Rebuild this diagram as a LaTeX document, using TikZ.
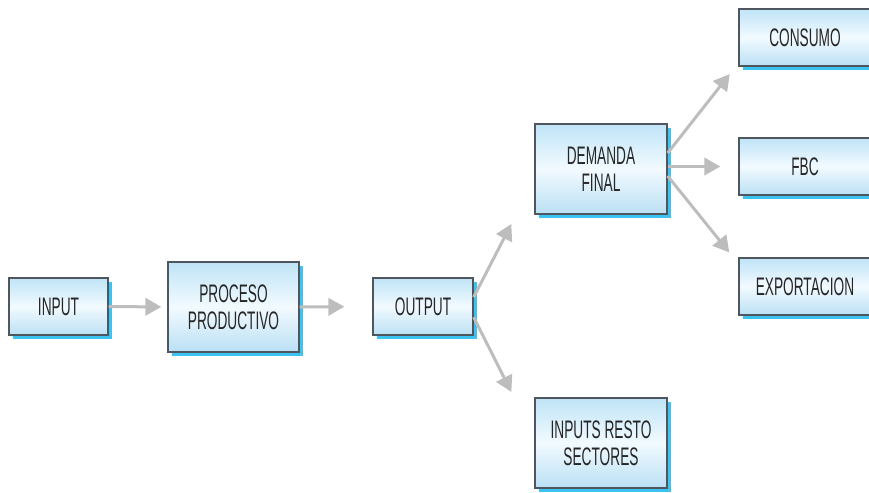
\documentclass[tikz,border=0pt]{standalone}
\usepackage{fontspec}
\usepackage{tikz}
\usetikzlibrary{arrows.meta,shadows}
\newfontfamily\cajafont{Liberation Sans}[FakeStretch=0.54]
\definecolor{cajaborde}{HTML}{50565D}
\definecolor{cajaarriba}{HTML}{BFE4F7}
\definecolor{cajamedio}{HTML}{F2FAFF}
\definecolor{cajaabajo}{HTML}{BAE0F4}
\definecolor{sombra}{HTML}{3CC3F2}
\definecolor{flechagris}{HTML}{BDBDBD}
\definecolor{texto}{HTML}{262626}
\tikzstyle{caja} = [draw=cajaborde, line width=1pt, rectangle, top color=cajaarriba, bottom color=cajaabajo, middle color=cajamedio, text=texto, align=center, font=\cajafont\fontsize{19}{20.5}\selectfont, inner sep=0pt, drop shadow={shadow xshift=3pt, shadow yshift=-3pt, fill=sombra, opacity=1}]
\tikzstyle{chica} = [caja, minimum height=42.75pt]
\tikzstyle{grande} = [caja, minimum width=99pt, minimum height=67.5pt]
\tikzstyle{flecha} = [draw=flechagris, line width=2.25pt, -{Triangle[length=12pt,width=13pt]}]

\begin{document}
\begin{tikzpicture}[x=0.75pt, y=-0.75pt]
		\useasboundingbox (0,0) rectangle (869,493);
		\node[chica, minimum width=74.25pt](input) at (58.5,306.5) {INPUT};
		\node[grande, minimum width=98.25pt](proceso) at (233.5,307) {PROCESO\\PRODUCTIVO};
		\node[chica, minimum width=75pt](output) at (423,306.5) {OUTPUT};
		\node[grande](demanda) at (601,169) {DEMANDA\\FINAL};
		\node[grande](resto) at (601,443) {INPUTS RESTO\\SECTORES};
		\node[chica, minimum width=99pt](consumo) at (805,37.5) {CONSUMO};
		\node[chica, minimum width=99pt](fbc) at (805,166.5) {FBC};
		\node[chica, minimum width=99pt](exportacion) at (805,286.5) {EXPORTACION};

		\draw[flecha, shorten >=4.5pt] (input.east) -- (proceso.west);
		\draw[flecha, shorten >=21pt] (proceso.east) -- (output.west);
		\draw[flecha] ([yshift=7pt]output.east) -- ([xshift=-17.25pt, yshift=-41.25pt]demanda.west);
		\draw[flecha] ([yshift=-8pt]output.east) -- ([xshift=-17.25pt, yshift=38.25pt]resto.west);
		\draw[flecha] ([yshift=12pt]demanda.east) -- ([xshift=-6.4pt, yshift=-27.4pt]consumo.west);
		\draw[flecha, shorten >=13.5pt] (demanda.east |- fbc.west) -- (fbc.west);
		\draw[flecha] ([yshift=-5.25pt]demanda.east) -- ([xshift=-6.75pt, yshift=25.5pt]exportacion.west);
	\end{tikzpicture}
\end{document}
